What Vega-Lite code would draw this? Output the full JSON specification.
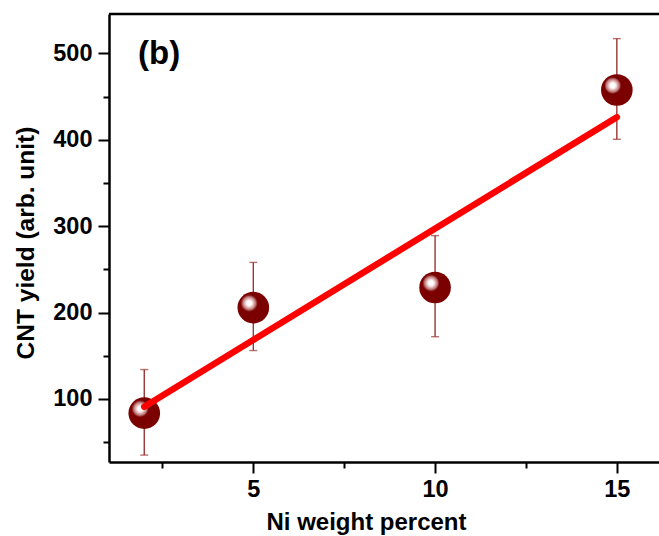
{
  "$schema": "https://vega.github.io/schema/vega-lite/v6.json",
  "width": 550,
  "height": 448,
  "autosize": {"type": "none"},
  "padding": {"left": 109, "top": 14, "right": 0, "bottom": 74},
  "background": "white",
  "config": {
    "view": {"stroke": null},
    "font": "Liberation Sans"
  },
  "datasets": {
    "pts": [
      {"ni": 2, "yield": 83.5, "lo": 35, "hi": 134},
      {"ni": 5, "yield": 205.7, "lo": 156, "hi": 258},
      {"ni": 10, "yield": 229, "lo": 172, "hi": 289},
      {"ni": 15, "yield": 457.6, "lo": 400.5, "hi": 517}
    ],
    "fit": [
      {"ni": 2, "yield": 91},
      {"ni": 15, "yield": 426}
    ]
  },
  "layer": [
    {
      "data": {"name": "pts"},
      "mark": {"type": "rule", "color": "#9b3535", "strokeWidth": 1.4},
      "encoding": {
        "x": {
          "field": "ni", "type": "quantitative", "title": "Ni weight percent",
          "scale": {"domain": [1.03, 16.16], "nice": false, "zero": false},
          "axis": {
            "values": [2.5, 5, 7.5, 10, 12.5, 15],
            "labelExpr": "datum.value % 5 === 0 ? datum.label : ''",
            "tickSize": {"condition": {"test": "datum.value % 5 === 0", "value": 11}, "value": 6},
            "tickWidth": 2, "tickColor": "black",
            "domainColor": "black", "domainWidth": 2.5,
            "grid": false,
            "labelFont": "Liberation Sans", "labelFontWeight": "bold", "labelFontSize": 23.5, "labelColor": "black",
            "labelPadding": 4,
            "titleFont": "Liberation Sans", "titleFontWeight": "bold", "titleFontSize": 24, "titleColor": "black",
            "titleX": 257, "titleY": 67, "titleAlign": "center", "titleBaseline": "alphabetic", "titleAnchor": null
          }
        },
        "y": {
          "field": "lo", "type": "quantitative", "title": "CNT yield (arb. unit)",
          "scale": {"domain": [27, 545.5], "nice": false, "zero": false},
          "axis": {
            "values": [50, 100, 150, 200, 250, 300, 350, 400, 450, 500],
            "labelExpr": "datum.value % 100 === 0 ? datum.label : ''",
            "tickSize": {"condition": {"test": "datum.value % 100 === 0", "value": 11}, "value": 6},
            "tickWidth": 2, "tickColor": "black",
            "domainColor": "black", "domainWidth": 2.5,
            "grid": false,
            "labelFont": "Liberation Sans", "labelFontWeight": "bold", "labelFontSize": 23.5, "labelColor": "black",
            "labelPadding": 6,
            "titleFont": "Liberation Sans", "titleFontWeight": "bold", "titleFontSize": 24.5, "titleColor": "black",
            "titleX": -76, "titleY": 228.5, "titleAngle": 270, "titleAlign": "center", "titleBaseline": "alphabetic", "titleAnchor": null
          }
        },
        "y2": {"field": "hi"}
      }
    },
    {
      "data": {"name": "pts"},
      "mark": {"type": "tick", "orient": "horizontal", "color": "#9b3535", "size": 8, "thickness": 1.4},
      "encoding": {
        "x": {"field": "ni", "type": "quantitative", "title": "Ni weight percent"},
        "y": {"field": "lo", "type": "quantitative", "title": "CNT yield (arb. unit)"}
      }
    },
    {
      "data": {"name": "pts"},
      "mark": {"type": "tick", "orient": "horizontal", "color": "#9b3535", "size": 8, "thickness": 1.4},
      "encoding": {
        "x": {"field": "ni", "type": "quantitative", "title": "Ni weight percent"},
        "y": {"field": "hi", "type": "quantitative", "title": "CNT yield (arb. unit)"}
      }
    },
    {
      "data": {"name": "pts"},
      "mark": {
        "type": "point", "shape": "circle", "filled": true, "size": 1000, "opacity": 1, "strokeWidth": 0,
        "color": {
          "gradient": "radial",
          "x1": 0.37, "y1": 0.36, "r1": 0,
          "x2": 0.37, "y2": 0.36, "r2": 0.3,
          "stops": [
            {"offset": 0, "color": "#ffffff"},
            {"offset": 0.25, "color": "#ffffff"},
            {"offset": 0.45, "color": "#e8c0c0"},
            {"offset": 0.7, "color": "#b87070"},
            {"offset": 0.88, "color": "#7b0000"},
            {"offset": 1, "color": "#7b0000"}
          ]
        }
      },
      "encoding": {
        "x": {"field": "ni", "type": "quantitative", "title": "Ni weight percent"},
        "y": {"field": "yield", "type": "quantitative", "title": "CNT yield (arb. unit)"}
      }
    },
    {
      "data": {"name": "fit"},
      "mark": {"type": "line", "color": "#ff0000", "strokeWidth": 6.5, "strokeCap": "round"},
      "encoding": {
        "x": {"field": "ni", "type": "quantitative", "title": "Ni weight percent"},
        "y": {"field": "yield", "type": "quantitative", "title": "CNT yield (arb. unit)"}
      }
    },
    {
      "data": {"values": [{}]},
      "mark": {"type": "rule", "color": "black", "strokeWidth": 2.5},
      "encoding": {"y": {"datum": 545.5, "type": "quantitative", "title": "CNT yield (arb. unit)"}}
    },
    {
      "data": {"values": [{}]},
      "mark": {"type": "text", "text": "(b)", "font": "Liberation Sans", "fontWeight": "bold", "fontSize": 33, "align": "center", "baseline": "middle", "color": "black"},
      "encoding": {
        "x": {"datum": 2.41, "type": "quantitative", "title": "Ni weight percent"},
        "y": {"datum": 499, "type": "quantitative", "title": "CNT yield (arb. unit)"}
      }
    }
  ]
}
